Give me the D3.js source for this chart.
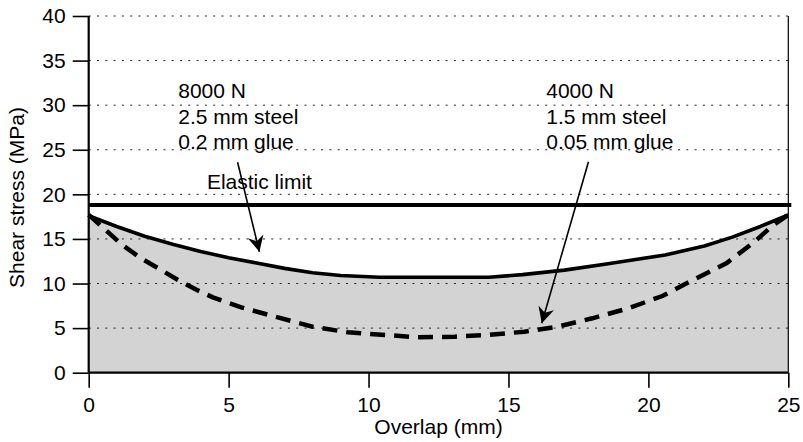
<!DOCTYPE html>
<html>
<head>
<meta charset="utf-8">
<script src="https://cdn.jsdelivr.net/npm/d3@7/dist/d3.min.js"></script>
<style>
  html, body { margin: 0; padding: 0; background: #fff; }
  svg text { font-family: "Liberation Sans", Arial, Helvetica, sans-serif; fill: #000; }
</style>
</head>
<body>
<svg id="chart" width="803" height="442"></svg>
<script>
// ---- data ----
const xTicks = [0, 5, 10, 15, 20, 25];
const yTicks = [0, 5, 10, 15, 20, 25, 30, 35, 40];
const elasticLimit = 18.8;

// 8000 N, 2.5 mm steel, 0.2 mm glue (solid)
const overlapSolid = [0, 1, 2, 3, 4, 5, 6, 7, 8, 9, 10.4, 14.3, 15.5, 17, 18.5, 20.6, 22, 23, 24, 25];
const stressSolid  = [17.6, 16.4, 15.3, 14.4, 13.6, 12.9, 12.3, 11.7, 11.2, 10.9, 10.7, 10.7, 11.0, 11.5, 12.2, 13.2, 14.2, 15.2, 16.4, 17.7];

// 4000 N, 1.5 mm steel, 0.05 mm glue (dashed)
const overlapDashed = [0, 0.57, 1.17, 1.88, 2.6, 3.19, 3.85, 4.44, 5.45, 6.76, 8.0, 9.26, 10.6, 11.76, 13.07, 14.26, 15.57, 16.76, 18.0, 19.26, 20.5, 21.6, 22.8, 23.8, 24.4, 25];
const stressDashed  = [17.7, 16.1, 14.4, 12.8, 11.5, 10.4, 9.3, 8.45, 7.33, 6.2, 5.16, 4.53, 4.23, 3.97, 4.04, 4.23, 4.6, 5.16, 6.1, 7.2, 8.6, 10.4, 12.3, 14.7, 16.4, 17.7];

const labelLeft  = ["8000 N", "2.5 mm steel", "0.2 mm glue"];
const labelRight = ["4000 N", "1.5 mm steel", "0.05 mm glue"];

// ---- layout ----
const svg = d3.select("#chart");
const L = 88.7, R = 788.3, T = 16, B = 372.7;
const x = d3.scaleLinear().domain([0, 25]).range([L, R]);
const y = d3.scaleLinear().domain([0, 40]).range([B, T]);
const FS = 21;

const solid = overlapSolid.map((d, i) => [d, stressSolid[i]]);
const dashed = overlapDashed.map((d, i) => [d, stressDashed[i]]);

// fill under solid curve
svg.append("path")
  .datum(solid)
  .attr("fill", "#d3d3d3")
  .attr("d", d3.area().x(d => x(d[0])).y0(y(0)).y1(d => y(d[1])));

// dotted gridlines
svg.append("g")
  .selectAll("line")
  .data(yTicks.filter(v => v > 0))
  .join("line")
  .attr("x1", L).attr("x2", R)
  .attr("y1", d => y(d)).attr("y2", d => y(d))
  .attr("stroke", "#222")
  .attr("stroke-width", 1)
  .attr("stroke-dasharray", "2,6.3");

// right border
svg.append("line")
  .attr("x1", R).attr("x2", R).attr("y1", T).attr("y2", B)
  .attr("stroke", "#000").attr("stroke-width", 1.2);

// axes
const yAxis = d3.axisLeft(y).tickValues(yTicks).tickSize(16).tickPadding(7).tickFormat(d3.format("d"));
const gy = svg.append("g").attr("transform", `translate(${L},0)`).call(yAxis);
gy.select(".domain").remove();
gy.selectAll(".tick line").attr("stroke", "#000").attr("stroke-width", 1.6);
gy.selectAll(".tick text").attr("font-size", FS).attr("font-family", "Liberation Sans, Arial, sans-serif");

const xAxis = d3.axisBottom(x).tickValues(xTicks).tickSize(15).tickPadding(9).tickFormat(d3.format("d"));
const gx = svg.append("g").attr("transform", `translate(0,${B})`).call(xAxis);
gx.select(".domain").remove();
gx.selectAll(".tick line").attr("stroke", "#000").attr("stroke-width", 1.6);
gx.selectAll(".tick text").attr("font-size", FS).attr("font-family", "Liberation Sans, Arial, sans-serif");

// axis lines
svg.append("line").attr("x1", L).attr("x2", L).attr("y1", T).attr("y2", B)
  .attr("stroke", "#000").attr("stroke-width", 2.2);
svg.append("line").attr("x1", L).attr("x2", R).attr("y1", B).attr("y2", B)
  .attr("stroke", "#000").attr("stroke-width", 2.2);

// elastic limit
svg.append("line")
  .attr("x1", L).attr("x2", R + 3)
  .attr("y1", y(elasticLimit)).attr("y2", y(elasticLimit))
  .attr("stroke", "#000").attr("stroke-width", 4);
svg.append("text")
  .attr("x", x(6.1)).attr("y", y(20.6))
  .attr("text-anchor", "middle").attr("font-size", FS)
  .text("Elastic limit");

const line = d3.line().x(d => x(d[0])).y(d => y(d[1]));

// solid curve
svg.append("path").datum(solid)
  .attr("fill", "none").attr("stroke", "#000").attr("stroke-width", 3.6)
  .attr("stroke-linejoin", "round")
  .attr("d", line);

// dashed curve
svg.append("path").datum(dashed)
  .attr("fill", "none").attr("stroke", "#000").attr("stroke-width", 4.5)
  .attr("stroke-dasharray", "15,9")
  .attr("d", line);

// annotations
function block(lines, xv, yv) {
  const t = svg.append("text").attr("font-size", FS);
  lines.forEach((s, i) => {
    t.append("tspan").attr("x", x(xv)).attr("y", y(yv) + i * 25.5).text(s);
  });
}
block(labelLeft, 3.2, 30.8);
block(labelRight, 16.35, 30.8);

// arrow marker
const defs = svg.append("defs");
defs.append("marker")
  .attr("id", "arrow")
  .attr("markerUnits", "userSpaceOnUse")
  .attr("viewBox", "-16 -9 18 18")
  .attr("refX", 0).attr("refY", 0)
  .attr("markerWidth", 18).attr("markerHeight", 18)
  .attr("orient", "auto")
  .append("path")
  .attr("d", "M0,0 L-16,-8 L-11,0 L-16,8 Z")
  .attr("fill", "#000");

function arrow(x1, y1, x2, y2) {
  svg.append("line")
    .attr("x1", x(x1)).attr("y1", y(y1)).attr("x2", x(x2)).attr("y2", y(y2))
    .attr("stroke", "#000").attr("stroke-width", 1.6)
    .attr("marker-end", "url(#arrow)");
}
arrow(5.32, 23.6, 6.1, 13.55);
arrow(17.86, 23.65, 16.19, 5.54);

// axis titles
svg.append("text")
  .attr("x", (L + R) / 2).attr("y", 434)
  .attr("text-anchor", "middle").attr("font-size", FS)
  .text("Overlap (mm)");
svg.append("text")
  .attr("transform", "translate(23.5,197.5) rotate(-90)")
  .attr("text-anchor", "middle").attr("font-size", FS)
  .text("Shear stress (MPa)");
</script>
</body>
</html>
